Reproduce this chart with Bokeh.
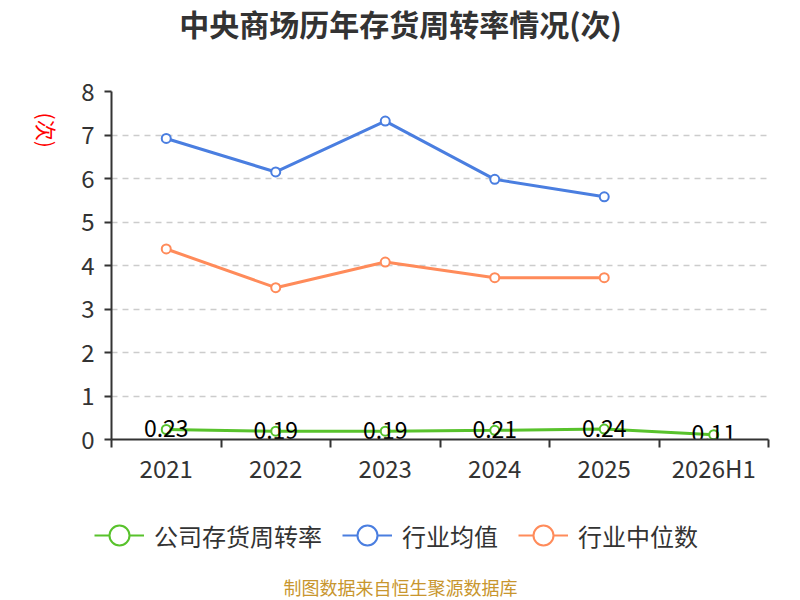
import math
from bokeh.plotting import figure
from bokeh.layouts import column, row
from bokeh.models import (FixedTicker, Legend, LegendItem, Label, Range1d,
                          ColumnDataSource)
from bokeh.core.properties import value
from bokeh.embed import file_html
from bokeh.resources import INLINE

categories = ["2021", "2022", "2023", "2024", "2025", "2026H1"]
company = [0.23, 0.19, 0.19, 0.21, 0.24, 0.11]
industry_mean = [6.92, 6.15, 7.32, 5.98, 5.58]
industry_median = [4.38, 3.49, 4.08, 3.72, 3.72]
company_labels = ["0.23", "0.19", "0.19", "0.21", "0.24", "0.11"]
series_names = ["公司存货周转率", "行业均值", "行业中位数"]
y_ticks = [0, 1, 2, 3, 4, 5, 6, 7, 8]
title_text = "中央商场历年存货周转率情况(次)"
unit_text = "(次)"
source_text = "制图数据来自恒生聚源数据库"

FONT = "Noto Sans CJK SC"
GREEN = "#58c22c"
BLUE = "#4a7ee0"
ORANGE = "#ff8b5a"

W = 792
HEADER_H = 44
LEFT_W = 60
MAIN_H = 450
FOOTER_H = 104


def blank(width, height):
    f = figure(width=width, height=height, output_backend="svg", toolbar_location=None,
               x_range=Range1d(0, width), y_range=Range1d(0, height),
               min_border=0, outline_line_color=None,
               background_fill_color="white", border_fill_color="white")
    f.axis.visible = False
    f.grid.visible = False
    return f


# ---- header (title) ----
header = blank(W, HEADER_H)
header.add_layout(Label(x=400, y=HEADER_H - 22, text=title_text, text_align="center",
                        text_baseline="middle", text_font=FONT, text_font_size="30px",
                        text_font_style="bold", text_color="#333333"))

# ---- left strip (unit label) ----
left = blank(LEFT_W, MAIN_H)
left.add_layout(Label(x=46, y=MAIN_H - 50, text=unit_text, angle=-math.pi / 2,
                      text_align="center", text_baseline="middle",
                      text_font=FONT, text_font_size="21px", text_color="#ff0000"))

# ---- main plot ----
xs = [i + 0.5 for i in range(len(categories))]

p = figure(width=W - LEFT_W, height=MAIN_H, output_backend="svg", toolbar_location=None,
           x_range=Range1d(0, len(categories)), y_range=Range1d(0, 8),
           min_border_left=51, min_border_right=24, min_border_top=47,
           min_border_bottom=55, outline_line_color=None,
           background_fill_color="white", border_fill_color="white")

xa = p.xaxis[0]
xa.ticker = FixedTicker(ticks=xs, minor_ticks=list(range(len(categories) + 1)))
xa.major_label_overrides = {x: c for x, c in zip(xs, categories)}
xa.major_tick_line_color = None
xa.major_tick_out = 0
xa.minor_tick_out = 8
xa.minor_tick_in = 0
xa.minor_tick_line_color = "#333333"
xa.minor_tick_line_width = 2
xa.axis_line_color = "#333333"
xa.axis_line_width = 2
xa.major_label_text_font = FONT
xa.major_label_text_font_size = "24px"
xa.major_label_text_color = "#333333"
xa.major_label_standoff = 2

ya = p.yaxis[0]
ya.ticker = FixedTicker(ticks=y_ticks, minor_ticks=[])
ya.major_tick_out = 7
ya.major_tick_in = 0
ya.major_tick_line_color = "#333333"
ya.major_tick_line_width = 2
ya.axis_line_color = "#333333"
ya.axis_line_width = 2
ya.major_label_text_font = FONT
ya.major_label_text_font_size = "24px"
ya.major_label_text_color = "#333333"
ya.major_label_standoff = 10

p.xgrid.grid_line_color = None
p.ygrid.ticker = FixedTicker(ticks=y_ticks[1:])
p.ygrid.grid_line_color = "#cccccc"
p.ygrid.grid_line_dash = "6 5"
p.ygrid.grid_line_width = 1.5

src_c = ColumnDataSource(dict(x=xs, y=company, lab=company_labels))
src_m = ColumnDataSource(dict(x=xs[:len(industry_mean)], y=industry_mean))
src_d = ColumnDataSource(dict(x=xs[:len(industry_median)], y=industry_median))

for src, col in ((src_m, BLUE), (src_d, ORANGE), (src_c, GREEN)):
    p.line("x", "y", source=src, line_color=col, line_width=3)
    p.scatter("x", "y", source=src, size=9, fill_color="white",
              line_color=col, line_width=2)

p.text("x", "y", text="lab", source=src_c, text_align="center",
       text_baseline="middle", text_font=value(FONT), text_font_size="23px",
       text_color="#000000", y_offset=-1)

# ---- footer (legend + source) ----
footer = blank(W, FOOTER_H)
# legend keys use the real series on a range that lies outside the footer's view
footer.extra_y_ranges = {"off": Range1d(1000, 1001)}
items = []
for name, src, col in zip(series_names, (src_c, src_m, src_d), (GREEN, BLUE, ORANGE)):
    r1 = footer.line("x", "y", source=src, line_color=col, line_width=2,
                     y_range_name="off")
    r2 = footer.scatter("x", "y", source=src, size=20, fill_color="white",
                        line_color=col, line_width=2, y_range_name="off")
    items.append(LegendItem(label=name, renderers=[r1, r2]))

legend = Legend(items=items, orientation="horizontal", location="top_center",
                label_text_font=FONT, label_text_font_size="24px",
                label_text_color="#333333", glyph_width=50, glyph_height=54,
                spacing=20, label_standoff=10, border_line_color=None,
                background_fill_alpha=0, margin=14, padding=0)
footer.add_layout(legend, "center")
footer.add_layout(Label(x=400, y=12, text=source_text, text_align="center",
                        text_baseline="middle", text_font=FONT, text_font_size="18px",
                        text_color="#c8962e"))

layout = column(header, row(left, p), footer)
open("out.html", "w").write(file_html(layout, INLINE))
